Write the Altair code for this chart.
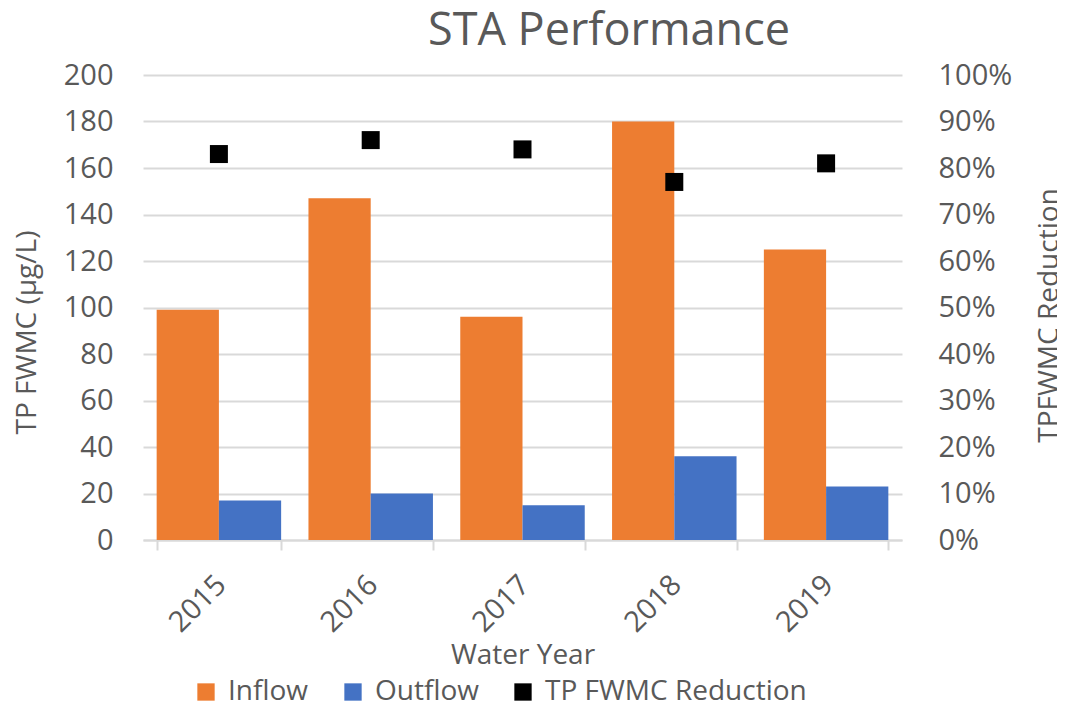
import altair as alt
import pandas as pd

years = ["2015", "2016", "2017", "2018", "2019"]
inflow = [99, 147, 96, 180, 125]
outflow = [17, 20, 15, 36, 23]
reduction = [0.83, 0.86, 0.84, 0.77, 0.81]

series_names = ["Inflow", "Outflow", "TP FWMC Reduction"]
series_colors = ["#ED7D31", "#4472C4", "#000000"]
chart_title = "STA Performance"

bars_df = pd.DataFrame({
    "year": years * 2,
    "series": ["Inflow"] * len(years) + ["Outflow"] * len(years),
    "value": inflow + outflow,
})
pts_df = pd.DataFrame({
    "year": years,
    "series": ["TP FWMC Reduction"] * len(years),
    "value": reduction,
})

FONT = "Open Sans"
GREY = "#595959"

color = alt.Color(
    "series:N",
    scale=alt.Scale(domain=series_names, range=series_colors),
    legend=alt.Legend(
        title=None, orient="none", direction="horizontal",
        legendX=49, legendY=603, padding=0,
        symbolType="square", symbolSize=300, symbolStrokeWidth=0,
        labelFontSize=28, labelColor=GREY, labelFont=FONT, labelLimit=0,
        labelOffset=8, columnPadding=30,
    ),
)

x_axis = alt.Axis(
    title="Water Year", titleFontSize=28, titleColor=GREY, titleFont=FONT,
    titleFontWeight="normal", titleY=123, titleBaseline="alphabetic",
    labelAngle=-45, labelFontSize=29, labelColor=GREY, labelFont=FONT,
    labelPadding=20, labelOffset=-8,
    tickBand="extent", tickSize=10, tickColor="#d9d9d9",
    tickWidth=2, domainColor="#d9d9d9", domainWidth=2, grid=False,
)
xenc = alt.X("year:N", sort=years,
             scale=alt.Scale(paddingInner=0.18, paddingOuter=0.09),
             axis=x_axis)

bars = alt.Chart(bars_df).mark_bar().encode(
    x=xenc,
    xOffset=alt.XOffset("series:N", sort=["Inflow", "Outflow"]),
    y=alt.Y("value:Q", scale=alt.Scale(domain=[0, 200]),
            axis=alt.Axis(
                title="TP FWMC (µg/L)", values=list(range(0, 201, 20)),
                titleFontSize=28, titleColor=GREY, titleFont=FONT,
                titleFontWeight="normal", titleAngle=270, titleAlign="center",
                titleBaseline="alphabetic", titleX=-108, titleY=257,
                labelFontSize=29, labelColor=GREY, labelFont=FONT,
                labelPadding=30, ticks=False, domain=False,
                grid=True, gridColor="#d9d9d9", gridWidth=2,
            )),
    color=color,
)

pts = alt.Chart(pts_df).mark_square(size=324, opacity=1).encode(
    x=xenc,
    y=alt.Y("value:Q", scale=alt.Scale(domain=[0, 1]),
            axis=alt.Axis(
                title="TPFWMC Reduction", orient="right", format=".0%",
                values=[i / 10 for i in range(11)],
                titleFontSize=28, titleColor=GREY, titleFont=FONT,
                titleFontWeight="normal", titleAngle=270, titleAlign="center",
                titleBaseline="alphabetic", titleX=155, titleY=240,
                labelFontSize=29, labelColor=GREY, labelFont=FONT,
                labelPadding=36, ticks=False, domain=False, grid=False,
            )),
    color=color,
)

title_df = pd.DataFrame({"label": [chart_title]})
title_mark = alt.Chart(title_df).mark_text(
    fontSize=45, font=FONT, color=GREY, align="center", baseline="alphabetic",
).encode(
    text="label:N",
    x=alt.value(466),
    y=alt.value(-30),
)

chart = alt.layer(bars, pts, title_mark).resolve_scale(y="independent").properties(
    width=759, height=465,
    autosize=alt.AutoSizeParams(type="none"),
    padding={"left": 135, "top": 67, "right": 155, "bottom": 161},
).configure_view(stroke=None)

chart.save("out.html", embed_options={"renderer": "svg", "actions": False})
